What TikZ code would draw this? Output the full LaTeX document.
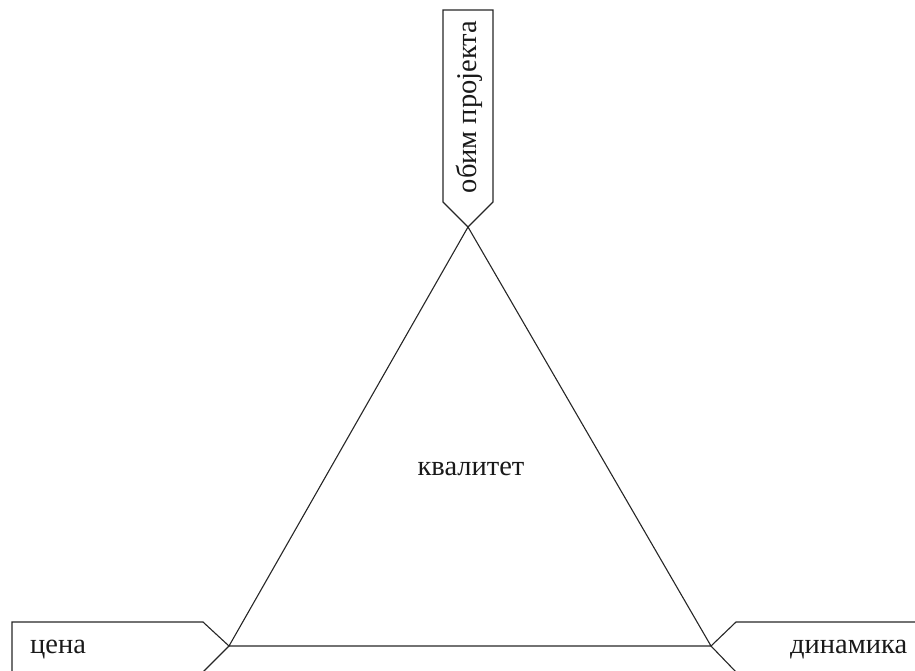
\documentclass[tikz,border=0pt]{standalone}
\usepackage{fontspec}
\setmainfont{Liberation Serif}
\begin{document}
\begin{tikzpicture}[x=1pt,y=-1pt,
  edge/.style={draw=black!85,line width=1.1pt},
  lbl/.style={font=\fontsize{28.5}{32}\selectfont,inner sep=0pt,text=black!90}]
\useasboundingbox (0,0) rectangle (915,670);
\clip (0,0) rectangle (915,670);
\coordinate (top) at (468,227);
\coordinate (bl) at (229,646);
\coordinate (br) at (711,646);
% triangle
\draw[edge] (top) -- (bl) -- (br) -- cycle;
% top tag
\draw[edge] (top) -- (443,202) -- (443,10) -- (493,10) -- (493,202) -- cycle;
% left tag
\draw[edge] (bl) -- (203,622) -- (12,622) -- (12,672) -- (203,672) -- cycle;
% right tag
\draw[edge] (br) -- (736,622) -- (918,622) -- (918,672) -- (736,672) -- cycle;
% labels
\node[lbl,rotate=90] (scope) at (469,107) {обим пројекта};
\node[lbl] (quality) at (471,469) {квалитет};
\node[lbl,anchor=base west] (price) at (30,653) {цена};
\node[lbl,anchor=base west] (dyn) at (790,653) {динамика};
\end{tikzpicture}
\end{document}
